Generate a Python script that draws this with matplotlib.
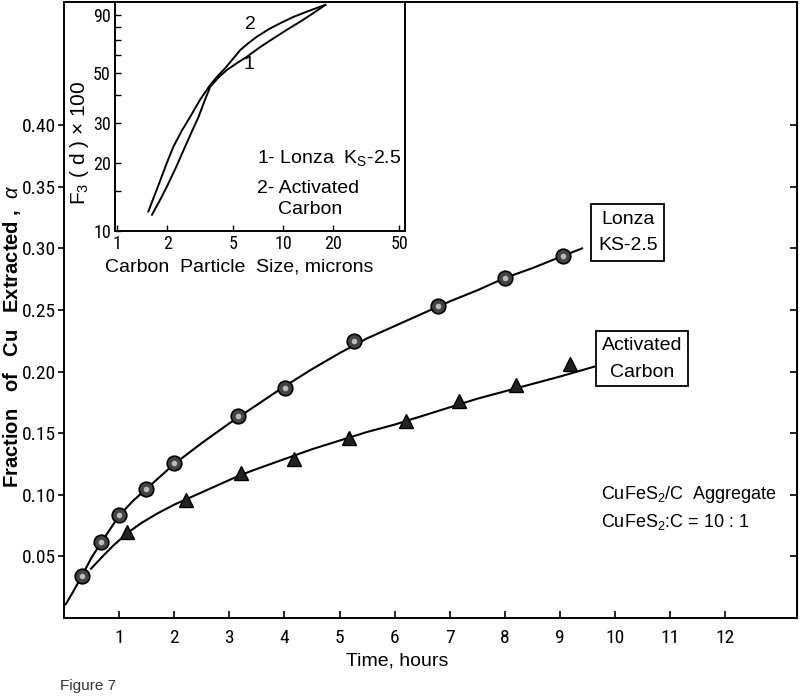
import numpy as np
import matplotlib
matplotlib.use('Agg')
from matplotlib import pyplot as plt
from matplotlib import font_manager as fm
from matplotlib.ticker import FixedLocator, NullFormatter

plt.rcParams['font.family'] = ['Liberation Sans', 'DejaVu Sans']
plt.rcParams['mathtext.fontset'] = 'custom'
plt.rcParams['mathtext.rm'] = 'Liberation Sans'
plt.rcParams['mathtext.it'] = 'Liberation Sans:italic'

# 找窄體字型(刻度數字用)，找不到就用一般字型
avail = {f.name for f in fm.fontManager.ttflist}
narrow = None
for c in ['Liberation Sans Narrow', 'Noto Sans Condensed', 'Roboto Condensed',
          'Open Sans Condensed', 'DejaVu Sans Condensed']:
    if c in avail:
        narrow = dict(family=c)
        break
if narrow is None:
    for f in fm.fontManager.ttflist:
        if f.stretch in ('condensed', 'semi-condensed') and f.style == 'normal':
            narrow = dict(family=f.name, stretch=f.stretch)
            break
if narrow is None:
    narrow = dict(family='Liberation Sans')
tick_fp = fm.FontProperties(size=14, **narrow)
ins_tick_fp = fm.FontProperties(size=13, **narrow)

# 主圖資料：時間(小時) 與 Cu 萃取分率
lonza_t = [0.32, 0.67, 0.99, 1.49, 2.0, 3.16, 4.01, 5.26, 6.79, 8.0, 9.05]
lonza_a = [0.034, 0.062, 0.084, 0.105, 0.126, 0.164, 0.187, 0.225, 0.253, 0.276, 0.294]
act_t = [1.15, 2.21, 3.21, 4.18, 5.17, 6.2, 7.17, 8.2, 9.19]
act_a = [0.070, 0.096, 0.118, 0.129, 0.146, 0.160, 0.176, 0.189, 0.206]

# 擬合曲線
lonza_fit_t = [0.03, 0.2, 0.32, 0.5, 0.67, 0.85, 1.0, 1.25, 1.5, 1.75, 2.0, 2.5, 3.0, 3.5, 4.0,
               4.5, 5.0, 5.5, 6.0, 6.5, 7.0, 7.5, 8.0, 8.5, 9.0, 9.4]
lonza_fit_a = [0.011, 0.024, 0.034, 0.049, 0.061, 0.073, 0.083, 0.095, 0.105, 0.115, 0.125, 0.142,
               0.158, 0.173, 0.188, 0.202, 0.215, 0.227, 0.237, 0.247, 0.257, 0.266, 0.276, 0.284,
               0.293, 0.300]
act_fit_t = [0.49, 0.7, 0.9, 1.15, 1.4, 1.7, 2.0, 2.2, 2.5, 3.0, 3.2, 3.5, 4.0, 4.5, 5.0, 5.5,
             6.0, 6.5, 7.0, 7.5, 8.0, 8.5, 9.0, 9.62]
act_fit_a = [0.040, 0.050, 0.059, 0.069, 0.077, 0.085, 0.092, 0.096, 0.102, 0.112, 0.116, 0.121,
             0.129, 0.137, 0.144, 0.151, 0.157, 0.164, 0.171, 0.178, 0.184, 0.190, 0.196, 0.204]

# 小圖：粒徑分佈 F3(d)x100
size1 = [1.62, 1.8, 1.99, 2.25, 2.51, 2.8, 3.09, 3.35, 3.63, 4.1, 4.58, 5.3, 6.04, 7.3, 8.74,
         10.5, 12.66, 15.0, 17.9]
f3_1 = [11.8, 13.6, 15.7, 19.0, 22.8, 27.3, 32.0, 37.5, 43.5, 48.0, 51.6, 55.5, 59.0, 65.3, 71.2,
        77.6, 84.4, 91.5, 100]
size2 = [1.54, 1.68, 1.82, 2.0, 2.18, 2.45, 2.75, 3.15, 3.63, 4.05, 4.47, 5.0, 5.51, 6.2, 6.94,
         8.2, 9.59, 11.5, 13.9, 15.8, 17.9]
f3_2 = [12.2, 14.4, 16.8, 20.2, 23.6, 27.8, 32.0, 38.0, 44.3, 48.7, 52.5, 58.0, 63.2, 68.0, 72.4,
        78.2, 83.0, 88.5, 93.4, 96.8, 100]

x_ticks = list(range(1, 13))
y_ticks = [0.05, 0.10, 0.15, 0.20, 0.25, 0.30, 0.35, 0.40]
ins_x_ticks = [1, 2, 5, 10, 20, 50]
ins_y_ticks = [10, 20, 30, 50, 90]
ins_y_minor = [15, 40, 60, 70, 80]

W, H = 800, 699
fig = plt.figure(figsize=(8, 6.99), dpi=100)

ax = fig.add_axes([64 / W, 1 - 618 / H, (797 - 64) / W, (618 - 2) / H])
ax.plot(lonza_fit_t, lonza_fit_a, color='black', lw=1.5)
ax.plot(act_fit_t, act_fit_a, color='black', lw=1.5)
ax.plot(lonza_t, lonza_a, 'o', ms=10.5, mfc='#444444', mec='black', mew=1.2, zorder=3)
ax.plot(lonza_t, lonza_a, 'o', ms=4, mfc='#bbbbbb', mec='none', zorder=4)
ax.plot(act_t, act_a, '^', ms=10, mfc='#222222', mec='black', zorder=3)

ax.set_xlim(0, 13.3)
ax.set_ylim(0, 0.50)
ax.set_xticks(x_ticks)
ax.set_xticklabels([str(v) for v in x_ticks], fontproperties=tick_fp)
ax.set_yticks(y_ticks)
ax.set_yticklabels(['%.2f' % v for v in y_ticks], fontproperties=tick_fp)
for s in ax.spines.values():
    s.set_linewidth(1.4)
ax.tick_params(axis='x', direction='in', length=5, width=1.2, pad=8)
ax.tick_params(axis='y', direction='out', length=4, width=1.2, pad=2)
ax2 = ax.secondary_yaxis('right')
ax2.set_yticks(y_ticks)
ax2.tick_params(direction='in', length=5, width=1.2, labelright=False)

ax.text(10.23, 0.313, 'Lonza\nKS-2.5', ha='center', va='center', fontsize=14, linespacing=1.75,
        bbox=dict(boxstyle='square,pad=0.35', fc='white', ec='black', lw=1.3))
ax.text(10.49, 0.2105, 'Activated\nCarbon', ha='center', va='center', fontsize=14, linespacing=1.75,
        bbox=dict(boxstyle='square,pad=0.3', fc='white', ec='black', lw=1.3))
ax.text(9.74, 0.100, r'CuFeS$_2$/C  Aggregate', ha='left', va='center', fontsize=13)
ax.text(9.74, 0.0783, r'CuFeS$_2$:C = 10 : 1', ha='left', va='center', fontsize=13)

ax.set_xlabel('Time, hours', fontsize=14)
ax.xaxis.set_label_coords((397 - 64) / (797 - 64), -(653 - 618) / 616, transform=ax.transAxes)
fig.text(12 / W, 1 - 336 / H, r'Fraction   of   Cu   Extracted ,  $\mathit{\alpha}$', rotation=90,
         ha='center', va='center', fontsize=14.5, fontweight='bold')
fig.text(60 / W, 1 - 686 / H, 'Figure 7', fontsize=11, ha='left', va='center', color='#333333')

# 小圖
axi = fig.add_axes([115 / W, 1 - 231 / H, 290 / W, 229 / H])
axi.plot(size1, f3_1, color='black', lw=1.4)
axi.plot(size2, f3_2, color='black', lw=1.4)
axi.set_xscale('log')
axi.set_yscale('log')
axi.set_xlim(0.97, 54)
axi.set_ylim(10, 103)
axi.xaxis.set_major_locator(FixedLocator(ins_x_ticks))
axi.set_xticklabels([str(v) for v in ins_x_ticks], fontproperties=ins_tick_fp)
axi.xaxis.set_minor_locator(FixedLocator([]))
axi.yaxis.set_major_locator(FixedLocator(ins_y_ticks))
axi.set_yticklabels([str(v) for v in ins_y_ticks], fontproperties=ins_tick_fp)
axi.yaxis.set_minor_locator(FixedLocator(ins_y_minor))
axi.yaxis.set_minor_formatter(NullFormatter())
for s in axi.spines.values():
    s.set_linewidth(1.4)
axi.tick_params(which='both', direction='in', length=4, width=1.0, pad=3)
axi.set_xlabel('Carbon  Particle  Size, microns', fontsize=14)
axi.xaxis.set_label_coords((239 - 115) / 290, -(258 - 231) / 229, transform=axi.transAxes)
axi.set_ylabel(r'F$_3$ ( d ) $\times$ 100', fontsize=15)
axi.yaxis.set_label_coords((91 - 115) / 290, (231 - 143) / 229, transform=axi.transAxes)

axi.text(6.32, 81.6, '2', ha='center', va='center', fontsize=14)
axi.text(6.18, 54.3, '1', ha='center', va='center', fontsize=14)
axi.text(0.489, 0.317, r'1- Lonza  K$_\mathrm{S}$-2.5', transform=axi.transAxes, ha='left', va='center', fontsize=14)
axi.text(0.489, 0.186, '2- Activated', transform=axi.transAxes, ha='left', va='center', fontsize=14)
axi.text(0.563, 0.092, 'Carbon', transform=axi.transAxes, ha='left', va='center', fontsize=14)

fig.savefig('out.png', dpi=100)
